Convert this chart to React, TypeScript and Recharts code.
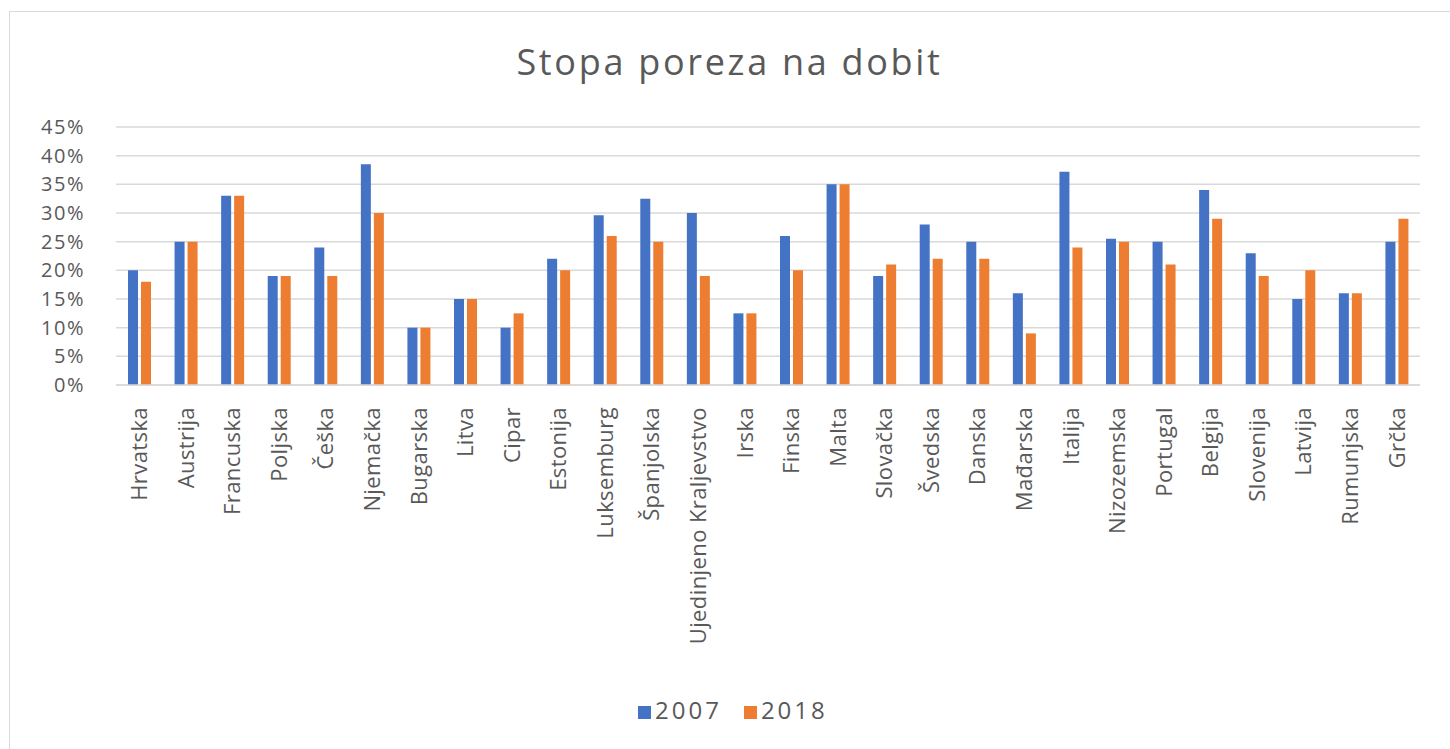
import { BarChart, Bar, XAxis, YAxis, CartesianGrid, Legend } from 'recharts';

const countries = [
  'Hrvatska', 'Austrija', 'Francuska', 'Poljska', 'Češka', 'Njemačka', 'Bugarska',
  'Litva', 'Cipar', 'Estonija', 'Luksemburg', 'Španjolska', 'Ujedinjeno Kraljevstvo',
  'Irska', 'Finska', 'Malta', 'Slovačka', 'Švedska', 'Danska', 'Mađarska', 'Italija',
  'Nizozemska', 'Portugal', 'Belgija', 'Slovenija', 'Latvija', 'Rumunjska', 'Grčka',
];

const rate2007 = [
  20, 25, 33, 19, 24, 38.5, 10, 15, 10, 22, 29.6, 32.5, 30, 12.5,
  26, 35, 19, 28, 25, 16, 37.2, 25.5, 25, 34, 23, 15, 16, 25,
];

const rate2018 = [
  18, 25, 33, 19, 19, 30, 10, 15, 12.5, 20, 26, 25, 19, 12.5,
  20, 35, 21, 22, 22, 9, 24, 25, 21, 29, 19, 20, 16, 29,
];

const yTicks = [0, 5, 10, 15, 20, 25, 30, 35, 40, 45];

const data = countries.map((name, i) => ({
  name,
  y2007: rate2007[i],
  y2018: rate2018[i],
}));

const textColor = '#595959';
const font = '"Open Sans", "Noto Sans", sans-serif';

function CountryTick(props: any) {
  const { x, y, payload } = props;
  return (
    <text
      x={0}
      y={0}
      dy="0.36em"
      textAnchor="end"
      fill={textColor}
      fontSize={22}
      letterSpacing={0.4}
      fontFamily={font}
      transform={`translate(${x},${y + 14}) rotate(-90)`}
    >
      {payload.value}
    </text>
  );
}

export default function App() {
  return (
    <div style={{ position: 'absolute', left: 0, top: 0, width: 1450, height: 749, background: '#fff', overflow: 'hidden' }}>
      <div
        style={{
          position: 'absolute',
          left: 9,
          top: 11,
          width: 1460,
          height: 760,
          border: '1px solid #d9d9d9',
        }}
      />
      <div
        style={{
          position: 'absolute',
          left: 9,
          top: 37,
          width: 1441,
          textAlign: 'center',
          fontFamily: font,
          fontSize: 36,
          color: textColor,
          letterSpacing: 2.7,
        }}
      >
        Stopa poreza na dobit
      </div>
      <div style={{ position: 'absolute', left: 0, top: 0 }}>
        <BarChart
          width={1450}
          height={749}
          data={data}
          margin={{ top: 127, right: 30, left: 16, bottom: 26 }}
          barGap={3}
          barSize={10}
        >
          <CartesianGrid vertical={false} stroke="#d9d9d9" strokeWidth={1.5} />
          <XAxis
            dataKey="name"
            interval={0}
            height={308}
            tick={<CountryTick />}
            tickLine={false}
            axisLine={{ stroke: '#d9d9d9', strokeWidth: 1.5 }}
          />
          <YAxis
            width={100}
            domain={[0, 45]}
            ticks={yTicks}
            interval={0}
            tickFormatter={(v: number) => `${v}%`}
            tickLine={false}
            axisLine={false}
            tickMargin={25}
            tick={{ fill: textColor, fontSize: 20, fontFamily: font, letterSpacing: 1.5 }}
          />
          <Legend
            verticalAlign="bottom"
            align="left"
            iconType="square"
            iconSize={13}
            wrapperStyle={{ height: 30, left: 638, width: 280, fontFamily: font, fontSize: 24 }}
            formatter={(value: string) => (
              <span style={{ color: textColor, marginRight: 12, letterSpacing: 3 }}>{value}</span>
            )}
          />
          <Bar dataKey="y2007" name="2007" fill="#4472C4" isAnimationActive={false} />
          <Bar dataKey="y2018" name="2018" fill="#ED7D31" isAnimationActive={false} />
        </BarChart>
      </div>
    </div>
  );
}
